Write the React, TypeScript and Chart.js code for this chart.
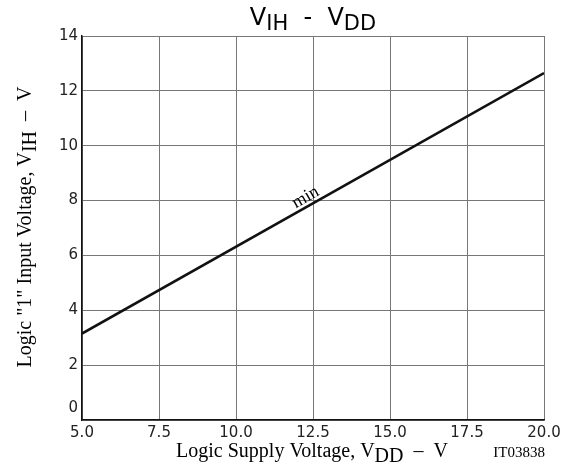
import { useEffect, useRef } from 'react';
import { Chart, registerables } from 'chart.js';

Chart.register(...registerables);

const supplyVoltage = [5.0, 20.0];
const inputVoltageMin = [3.15, 12.65];
const xTickValues = [5.0, 7.5, 10.0, 12.5, 15.0, 17.5, 20.0];
const yTickValues = [0, 2, 4, 6, 8, 10, 12, 14];
const curveLabel = 'min';
const curveLabelAt = 12.4;

type Seg = { t: string; font: string; dy: number };

function segWidth(ctx: CanvasRenderingContext2D, segs: Seg[]) {
  let w = 0;
  for (const s of segs) {
    ctx.font = s.font;
    w += ctx.measureText(s.t).width;
  }
  return w;
}

function drawSegs(ctx: CanvasRenderingContext2D, segs: Seg[], cx: number, y: number) {
  const w = segWidth(ctx, segs);
  let x = cx - w / 2;
  ctx.textAlign = 'left';
  ctx.textBaseline = 'alphabetic';
  for (const s of segs) {
    ctx.font = s.font;
    ctx.fillText(s.t, x, y + s.dy);
    x += ctx.measureText(s.t).width;
  }
}

const SANS = '"DejaVu Sans", "Liberation Sans", Arial, sans-serif';
const SERIF = '"Liberation Serif", "Times New Roman", serif';

const textPlugin = {
  id: 'texts',
  afterDraw(chart: any) {
    const ctx: any = chart.ctx;
    const xs = chart.scales.x;
    const ys = chart.scales.y;
    const area = chart.chartArea;
    ctx.save();
    ctx.fillStyle = '#000';
    // Title
    drawSegs(
      ctx,
      [
        { t: 'V', font: `24px ${SANS}`, dy: 0 },
        { t: 'IH', font: `21px ${SANS}`, dy: 5 },
        { t: '  -  ', font: `24px ${SANS}`, dy: 0 },
        { t: 'V', font: `24px ${SANS}`, dy: 0 },
        { t: 'DD', font: `21px ${SANS}`, dy: 5 },
      ],
      (area.left + area.right) / 2,
      25
    );
    // X axis title
    drawSegs(
      ctx,
      [
        { t: 'Logic Supply Voltage, V', font: `20px ${SERIF}`, dy: 0 },
        { t: 'DD', font: `20px ${SERIF}`, dy: 5 },
        { t: '  \u2013  V', font: `20px ${SERIF}`, dy: 0 },
      ],
      312,
      457
    );
    ctx.font = `15px ${SERIF}`;
    ctx.textAlign = 'right';
    ctx.fillText('IT03838', 545, 457);
    // Y axis title
    ctx.save();
    ctx.translate(31, 227);
    ctx.rotate(-Math.PI / 2);
    drawSegs(
      ctx,
      [
        { t: 'Logic "1" Input Voltage, V', font: `20px ${SERIF}`, dy: 0 },
        { t: 'IH', font: `20px ${SERIF}`, dy: 5 },
        { t: '  \u2013  V', font: `20px ${SERIF}`, dy: 0 },
      ],
      0,
      0
    );
    ctx.restore();
    // 0 label on y axis (raised)
    ctx.font = `15px ${SANS}`;
    ctx.fillStyle = '#222';
    ctx.textAlign = 'right';
    ctx.textBaseline = 'middle';
    ctx.fillText('0', area.left - 4, ys.getPixelForValue(0) - 12);
    // curve label
    const x0 = xs.getPixelForValue(supplyVoltage[0]);
    const y0 = ys.getPixelForValue(inputVoltageMin[0]);
    const x1 = xs.getPixelForValue(supplyVoltage[1]);
    const y1 = ys.getPixelForValue(inputVoltageMin[1]);
    const ang = Math.atan2(y1 - y0, x1 - x0);
    const t = (curveLabelAt - supplyVoltage[0]) / (supplyVoltage[1] - supplyVoltage[0]);
    const v = inputVoltageMin[0] + t * (inputVoltageMin[1] - inputVoltageMin[0]);
    const px = xs.getPixelForValue(curveLabelAt);
    const py = ys.getPixelForValue(v);
    ctx.save();
    ctx.translate(px, py);
    ctx.rotate(ang);
    ctx.font = `18px ${SERIF}`;
    ctx.fillStyle = '#000';
    ctx.textAlign = 'center';
    ctx.textBaseline = 'alphabetic';
    ctx.fillText(curveLabel, 0, -4);
    ctx.restore();
    ctx.restore();
  },
};

export default function App() {
  const ref = useRef<HTMLCanvasElement | null>(null);
  useEffect(() => {
    document.body.style.margin = '0';
    const canvas = ref.current;
    if (!canvas) return;
    const chart = new Chart(canvas, {
      type: 'scatter',
      data: {
        datasets: [
          {
            data: supplyVoltage.map((x, i) => ({ x, y: inputVoltageMin[i] })),
            showLine: true,
            borderColor: '#111',
            borderWidth: 2.6,
            pointRadius: 0,
            fill: false,
          },
        ],
      },
      options: {
        responsive: false,
        animation: false,
        events: [],
        layout: { padding: { top: 36, right: 24, left: 0, bottom: 0 } },
        plugins: { legend: { display: false }, tooltip: { enabled: false }, title: { display: false } },
        scales: {
          x: {
            type: 'linear',
            min: 5,
            max: 20,
            afterBuildTicks: (s: any) => {
              s.ticks = xTickValues.map((value) => ({ value }));
            },
            afterFit: (s: any) => {
              s.height = 52;
            },
            ticks: {
              color: '#222',
              font: { family: SANS, size: 15 },
              padding: 4,
              maxRotation: 0,
              autoSkip: false,
              callback: (v: any) => Number(v).toFixed(1),
            },
            grid: { color: '#777', lineWidth: 1, drawTicks: false },
            border: { color: '#111', width: 1.5 },
          },
          y: {
            type: 'linear',
            min: 0,
            max: 14,
            afterBuildTicks: (s: any) => {
              s.ticks = yTickValues.map((value) => ({ value }));
            },
            afterFit: (s: any) => {
              s.width = 82;
            },
            ticks: {
              color: '#222',
              font: { family: SANS, size: 15 },
              padding: 4,
              autoSkip: false,
              callback: (v: any) => (Number(v) === 0 ? '' : String(v)),
            },
            grid: { color: '#777', lineWidth: 1, drawTicks: false },
            border: { color: '#111', width: 1.5 },
          },
        },
      },
      plugins: [textPlugin],
    } as any);
    return () => chart.destroy();
  }, []);
  return <canvas ref={ref} width={568} height={472} style={{ display: 'block' }} />;
}
